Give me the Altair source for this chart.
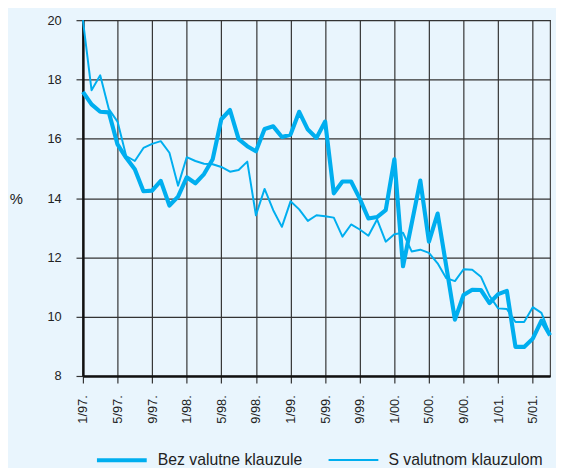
import altair as alt
import pandas as pd

series_names = ["Bez valutne klauzule", "S valutnom klauzulom"]

tick_labels = ["1/97.", "5/97.", "9/97.", "1/98.", "5/98.", "9/98.", "1/99.",
               "5/99.", "9/99.", "1/00.", "5/00.", "9/00.", "1/01.", "5/01."]

# monthly index 0 = 1/97 ... 54 = 7/01
month_idx = list(range(55))

bez = [17.58, 17.16, 16.91, 16.89, 15.81, 15.36, 14.97, 14.23, 14.25, 14.58,
       13.75, 14.05, 14.70, 14.50, 14.81, 15.31, 16.66, 16.97, 15.99, 15.75,
       15.58, 16.33, 16.42, 16.06, 16.14, 16.91, 16.31, 16.03, 16.58, 14.16,
       14.56, 14.56, 13.98, 13.31, 13.36, 13.59, 15.31, 11.70, 13.14, 14.59,
       12.53, 13.48, 11.70, 9.90, 10.73, 10.91, 10.90, 10.46, 10.76, 10.87,
       8.98, 8.98, 9.26, 9.87, 9.37]

s_val = [20.0, 17.64, 18.14, 17.0, 16.58, 15.42, 15.25, 15.69, 15.83, 15.92,
         15.53, 14.42, 15.38, 15.25, 15.16, 15.14, 15.05, 14.89, 14.95, 15.23,
         13.42, 14.31, 13.59, 13.03, 13.89, 13.62, 13.23, 13.42, 13.39, 13.34,
         12.70, 13.11, 12.94, 12.73, 13.28, 12.53, 12.78, 12.83, 12.20, 12.26,
         12.15, 11.80, 11.30, 11.20, 11.60, 11.58, 11.35, 10.70, 10.28, 10.26,
         9.82, 9.82, 10.32, 10.13, 9.40]

y_ticks = [8, 10, 12, 14, 16, 18, 20]

df = pd.DataFrame({
    "m": month_idx + month_idx,
    "v": bez + s_val,
    "s": [series_names[0]] * len(bez) + [series_names[1]] * len(s_val),
})

label_expr = "[" + ",".join("'" + t + "'" for t in tick_labels) + "][round(datum.value/4)]"

FONT = "Liberation Sans"
LINE = "#00aeef"

chart = alt.Chart(df).mark_line(color=LINE, strokeJoin="round").encode(
    x=alt.X("m:Q",
            scale=alt.Scale(domain=[0, 54], nice=False, zero=False),
            axis=alt.Axis(values=list(range(0, 53, 4)), labelExpr=label_expr,
                          labelAngle=270, title=None, labelPadding=12,
                          labelFontSize=13)),
    y=alt.Y("v:Q",
            scale=alt.Scale(domain=[8, 20], nice=False, zero=False),
            axis=alt.Axis(values=y_ticks, title="%", titleAngle=0,
                          titleX=-68, titleY=181, titleBaseline="middle",
                          titleAlign="center", titleFontSize=15,
                          titleFontWeight="normal", labelPadding=15,
                          labelFontSize=13)),
    strokeWidth=alt.StrokeWidth(
        "s:N",
        scale=alt.Scale(domain=series_names, range=[4.2, 2]),
        legend=alt.Legend(title=None, orient="none", legendX=12, legendY=419,
                          direction="horizontal", symbolType="stroke",
                          symbolSize=2550, symbolStrokeColor=LINE,
                          labelFontSize=16, labelFont=FONT, labelColor="#222",
                          labelOffset=9, columnPadding=22)),
).properties(
    width=474,
    height=361,
    autosize=alt.AutoSizeParams(type="none"),
    padding={"left": 76, "top": 9, "right": 6, "bottom": 90},
    background="#e9f5fd",
).configure_view(
    stroke="#444", strokeWidth=1.2, fill="#e9f5fd"
).configure_axis(
    labelFont=FONT, titleFont=FONT, labelColor="#222", titleColor="#222",
    grid=True, gridColor="#333", gridWidth=1.2, gridOpacity=1,
    domainColor="#111", domainWidth=2.5,
    tickColor="#333", tickWidth=1.2, tickSize=7,
)

chart.save("out.html", embed_options={"renderer": "svg", "actions": False})
